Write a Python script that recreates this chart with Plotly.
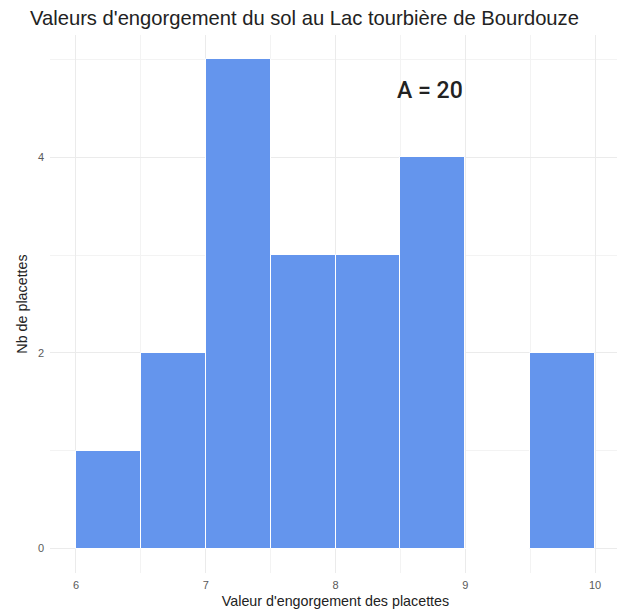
import plotly.graph_objects as go

bin_starts = [6.0, 6.5, 7.0, 7.5, 8.0, 8.5, 9.0, 9.5]
counts = [1, 2, 5, 3, 3, 4, 0, 2]
bin_width = 0.5
x_ticks = [6, 7, 8, 9, 10]
y_ticks = [0, 2, 4]
title = "Valeurs d'engorgement du sol au Lac tourbière de Bourdouze"
x_title = "Valeur d'engorgement des placettes"
y_title = "Nb de placettes"
annot_text = "A = 20"

centers = [s + bin_width / 2 for s in bin_starts]

fig = go.Figure()
fig.add_trace(go.Bar(
    x=centers, y=counts, width=[bin_width] * len(counts),
    marker=dict(color="#6495ED", line=dict(color="white", width=1)),
    showlegend=False,
))

fig.add_annotation(x=8.725, y=4.68, text=annot_text, showarrow=False,
                   font=dict(family="Roboto", size=23, color="#222222", weight=500))

fig.update_layout(
    width=617, height=607,
    margin=dict(l=42, r=4, t=26.5, b=41.5),
    plot_bgcolor="white", paper_bgcolor="white",
    bargap=0,
    title=dict(text=title, x=22 / 617, xanchor="left", y=1 - 10 / 607, yanchor="middle",
               font=dict(family="Liberation Sans, Arial", size=20.2, color="#222222")),
    font=dict(family="Liberation Sans, Arial"),
    xaxis=dict(range=[5.8, 10.2], tickvals=x_ticks, showgrid=True, gridcolor="#EBEBEB",
               gridwidth=1, zeroline=False, showline=False, ticks="",
               tickfont=dict(size=11, color="#5A5A5A"), ticklabelstandoff=4,
               minor=dict(dtick=0.5, tick0=6, showgrid=True, gridcolor="#F3F3F3", gridwidth=0.6),
               title=dict(text=x_title, font=dict(size=14.3, color="#222222"), standoff=5)),
    yaxis=dict(range=[-0.25, 5.25], tickvals=y_ticks, showgrid=True, gridcolor="#EBEBEB",
               gridwidth=1, zeroline=False, showline=False, ticks="",
               tickfont=dict(size=11, color="#5A5A5A"), ticklabelstandoff=5,
               minor=dict(dtick=1, tick0=1, showgrid=True, gridcolor="#F3F3F3", gridwidth=0.6),
               title=dict(text=y_title, font=dict(size=14.3, color="#222222"), standoff=6)),
)

fig.write_html("out.html")
